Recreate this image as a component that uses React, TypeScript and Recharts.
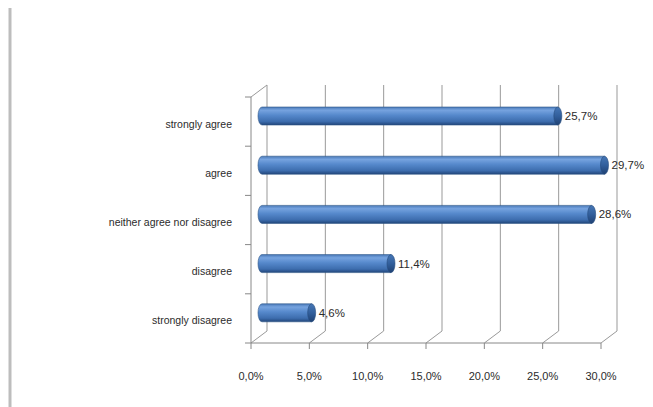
import React from 'react';
import { BarChart, Bar, XAxis, YAxis, LabelList } from 'recharts';

const categories = ['strongly agree', 'agree', 'neither agree nor disagree', 'disagree', 'strongly disagree'];
const shares = [25.7, 29.7, 28.6, 11.4, 4.6];
const xTicks = [0, 5, 10, 15, 20, 25, 30];

const data = categories.map((name, i) => ({ name, value: shares[i] }));

// plot box (page coords, wrapper is pinned at 0,0)
const W = 653;
const H = 407;
const L = 258;
const R = 608;
const T = 91;
const B = 337;
const MAX = 30;
// pseudo 3D depth: back wall and front face offsets
const BACK = { dx: 9, dy: -6 };
const FRONT = { dx: -7, dy: 6 };
const FONT = '"Liberation Sans", Arial, sans-serif';
const TEXT = '#2b2b2b';

const sx = (v: number) => L + ((R - L) * v) / MAX;

const fmt = (v: number) => `${v.toFixed(1).replace('.', ',')}%`;

const Frame = () => {
  const band = (B - T) / categories.length;
  const grid = '#999';
  const fy = B + FRONT.dy;
  const fx0 = sx(0) + FRONT.dx;
  return (
    <svg width={W} height={H} style={{ position: 'absolute', left: 0, top: 0 }}>
      <line x1={10} y1={8} x2={10} y2={H} stroke="#bdbdbd" strokeWidth={3} />
      {/* back wall gridlines */}
      {xTicks.map((t) => (
        <line key={'g' + t} x1={sx(t) + BACK.dx} y1={T + BACK.dy} x2={sx(t) + BACK.dx} y2={B + BACK.dy} stroke={grid} />
      ))}
      {/* floor diagonals */}
      {xTicks.map((t) => (
        <line key={'d' + t} x1={sx(t) + FRONT.dx} y1={fy} x2={sx(t) + BACK.dx} y2={B + BACK.dy} stroke={grid} />
      ))}
      {/* left wall top diagonal */}
      <line x1={fx0} y1={T + FRONT.dy} x2={sx(0) + BACK.dx} y2={T + BACK.dy} stroke={grid} />
      {/* front axes */}
      <line x1={fx0} y1={T + FRONT.dy} x2={fx0} y2={fy} stroke="#888" />
      <line x1={fx0 - 6} y1={fy} x2={sx(MAX) + FRONT.dx} y2={fy} stroke="#888" />
      {xTicks.map((t) => (
        <line key={'t' + t} x1={sx(t) + FRONT.dx} y1={fy} x2={sx(t) + FRONT.dx} y2={fy + 6} stroke="#888" />
      ))}
      {categories.map((c, i) => (
        <line key={'c' + c} x1={fx0 - 6} y1={T + band * i + FRONT.dy} x2={fx0} y2={T + band * i + FRONT.dy} stroke="#888" />
      ))}
    </svg>
  );
};

const Cylinder = (props: any) => {
  const { x, y, width, height } = props;
  if (!width || width <= 0) return null;
  const r = 4;
  const body = `M${x + r},${y} L${x + width},${y} L${x + width},${y + height} L${x + r},${y + height} A${r},${height / 2} 0 0 1 ${x + r},${y} Z`;
  return (
    <g>
      <path d={body} fill="url(#cyl)" stroke="#2d5587" strokeWidth={0.6} />
      <ellipse cx={x + width} cy={y + height / 2} rx={r} ry={height / 2} fill="url(#cap)" stroke="#264c7c" strokeWidth={0.6} />
    </g>
  );
};

const XTick = (props: any) => {
  const { x, payload } = props;
  return (
    <text x={x + FRONT.dx} y={B + FRONT.dy + 37} textAnchor="middle" fontSize={11} fill={TEXT} fontFamily={FONT}>
      {fmt(payload.value)}
    </text>
  );
};

const YTick = (props: any) => {
  const { y, payload } = props;
  return (
    <text x={L + FRONT.dx - 19} y={y + 8} textAnchor="end" dominantBaseline="central" fontSize={10.5} fill={TEXT} fontFamily={FONT}>
      {payload.value}
    </text>
  );
};

const App = () => (
  <div style={{ position: 'absolute', left: 0, top: 0, width: W, height: H, background: '#fff' }}>
    <Frame />
    <div style={{ position: 'absolute', left: 0, top: 0 }}>
      <BarChart width={W} height={H} data={data} layout="vertical" margin={{ top: T, right: W - R, bottom: H - B - 30, left: 0 }}>
        <defs>
          <linearGradient id="cyl" x1="0" y1="0" x2="0" y2="1">
            <stop offset="0%" stopColor="#4a7ab9" />
            <stop offset="18%" stopColor="#76a3df" />
            <stop offset="45%" stopColor="#5689cc" />
            <stop offset="80%" stopColor="#3d6dae" />
            <stop offset="100%" stopColor="#22467a" />
          </linearGradient>
          <linearGradient id="cap" x1="0" y1="0" x2="0" y2="1">
            <stop offset="0%" stopColor="#4677b6" />
            <stop offset="50%" stopColor="#325f9c" />
            <stop offset="100%" stopColor="#1f4173" />
          </linearGradient>
        </defs>
        <XAxis type="number" domain={[0, MAX]} ticks={xTicks} height={30} axisLine={false} tickLine={false} tick={<XTick />} interval={0} />
        <YAxis type="category" dataKey="name" width={L} axisLine={false} tickLine={false} tick={<YTick />} interval={0} />
        <Bar dataKey="value" barSize={18} shape={<Cylinder />} isAnimationActive={false}>
          <LabelList dataKey="value" position="right" offset={7} formatter={(v: any) => fmt(Number(v))} fill={TEXT} fontSize={11.5} fontFamily={FONT} />
        </Bar>
      </BarChart>
    </div>
  </div>
);

export default App;
